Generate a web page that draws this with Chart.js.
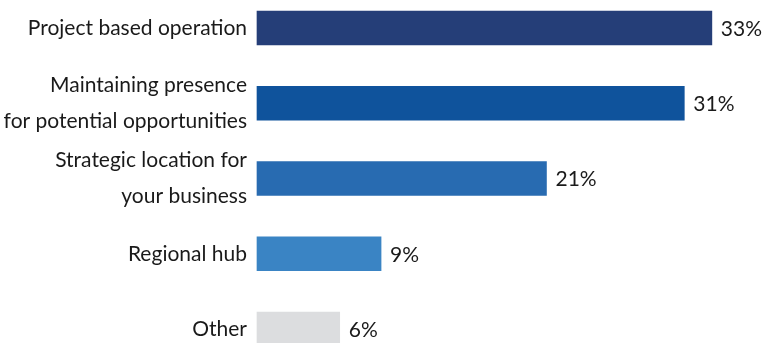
<!DOCTYPE html>
<html>
<head>
<meta charset="utf-8">
<script src="https://cdn.jsdelivr.net/npm/chart.js@4"></script>
<style>
  html, body { margin: 0; padding: 0; background: #fff; }
  #wrap { width: 767px; height: 343px; }
</style>
</head>
<body>
<div id="wrap"><canvas id="chart"></canvas></div>
<script>
const reasons = [
  "Project based operation",
  ["Maintaining presence", "for potential opportunities"],
  ["Strategic location for", "your business"],
  "Regional hub",
  "Other",
];
const shares = [33, 31, 21, 9, 6];
const barColors = ["#253e78", "#0f539c", "#286bb1", "#3a84c4", "#dcdddf"];

const textFont = { family: "Lato", size: 21, lineHeight: "36px" };

// writes "NN%" just past the end of each bar
const valueLabels = {
  id: "valueLabels",
  afterDatasetsDraw(chart) {
    const ctx = chart.ctx;
    const meta = chart.getDatasetMeta(0);
    ctx.save();
    ctx.font = `${textFont.size}px ${textFont.family}`;
    ctx.fillStyle = "#1a1a1a";
    ctx.textBaseline = "middle";
    ctx.textAlign = "left";
    meta.data.forEach((bar, i) => {
      ctx.fillText(shares[i] + "%", bar.x + 9, bar.y + 1);
    });
    ctx.restore();
  },
};

new Chart(document.getElementById("chart"), {
  type: "bar",
  data: {
    labels: reasons,
    datasets: [{
      data: shares,
      backgroundColor: barColors,
      barThickness: 34,
      clip: false,
    }],
  },
  options: {
    indexAxis: "y",
    animation: false,
    responsive: true,
    maintainAspectRatio: false,
    layout: { padding: { top: 28, bottom: 14, left: 0, right: 0 } },
    plugins: { legend: { display: false }, tooltip: { enabled: false } },
    scales: {
      x: { display: false, min: 0, max: 37 },
      y: {
        offset: false,
        grid: { display: false, drawTicks: false },
        border: { display: false },
        afterFit(scale) {
          scale.width = 257;
          scale.paddingTop = 0;
          scale.paddingBottom = 0;
        },
        ticks: {
          autoSkip: false,
          color: "#1a1a1a",
          font: textFont,
          padding: 10,
        },
      },
    },
  },
  plugins: [valueLabels],
});
</script>
</body>
</html>
